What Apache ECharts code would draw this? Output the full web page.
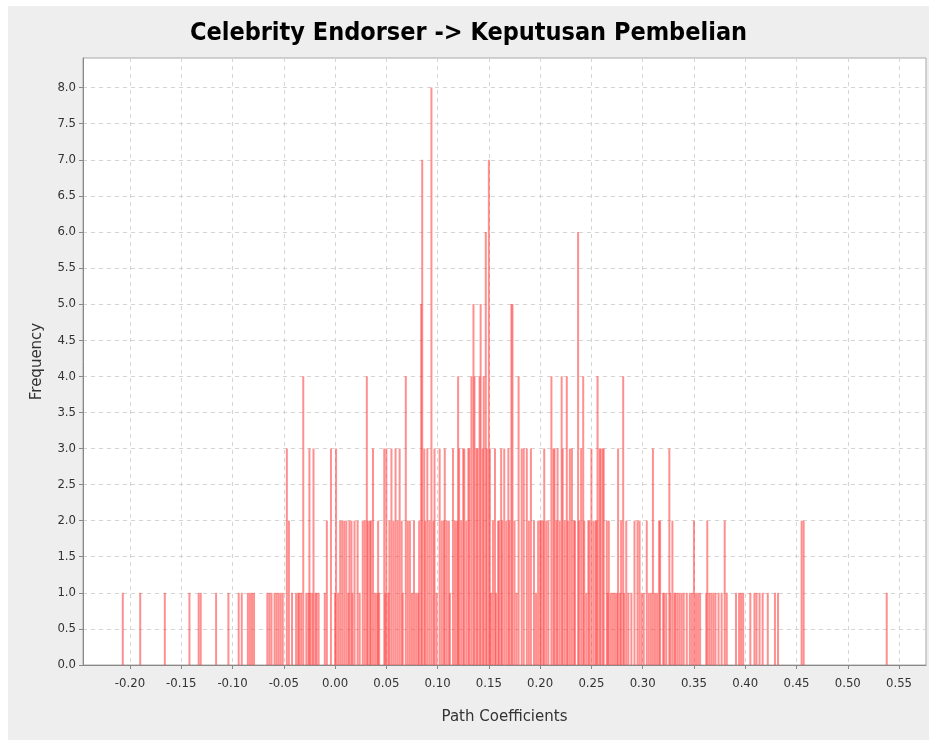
<!DOCTYPE html>
<html>
<head>
<meta charset="utf-8">
<script src="https://cdn.jsdelivr.net/npm/echarts@6/dist/echarts.min.js"></script>
<style>
    html, body { margin: 0; padding: 0; background: #ffffff; }
    #hist { position: absolute; left: 8px; top: 6px; width: 921px; height: 734px; }
</style>
</head>
<body>
<div id="hist"></div>
<script>
// valores del bootstrap (coeficiente) y su frecuencia
const coef = [
    -0.207, -0.190, -0.166, -0.142, -0.133, -0.131, -0.116, -0.104, -0.094, -0.091, -0.085, -0.083, -0.081, -0.079,
    -0.066, -0.064, -0.062, -0.059, -0.057, -0.055, -0.053, -0.051, -0.047, -0.045, -0.042, -0.038, -0.036, -0.035,
    -0.033, -0.031, -0.028, -0.026, -0.025, -0.024, -0.022, -0.021, -0.019, -0.018, -0.016, -0.010, -0.008, -0.004,
    0.000, 0.001, 0.003, 0.005, 0.007, 0.009, 0.011, 0.013, 0.014, 0.016, 0.017, 0.019, 0.022, 0.024, 0.027, 0.029,
    0.031, 0.032, 0.034, 0.035, 0.037, 0.039, 0.041, 0.042, 0.043,
    0.048, 0.049, 0.050, 0.052, 0.053, 0.055, 0.057, 0.059, 0.061, 0.063, 0.065, 0.066, 0.069, 0.071, 0.073, 0.075,
    0.077, 0.079, 0.081, 0.082, 0.084, 0.085, 0.087, 0.088, 0.090, 0.092, 0.094, 0.096, 0.097, 0.099,
    0.102, 0.104, 0.106, 0.107, 0.109, 0.111, 0.112, 0.115, 0.117, 0.119, 0.120, 0.121, 0.123, 0.125, 0.126, 0.128,
    0.130, 0.131, 0.133, 0.135, 0.136, 0.138, 0.139, 0.141, 0.142, 0.144, 0.145, 0.147, 0.148, 0.150, 0.151, 0.152,
    0.154, 0.156, 0.157, 0.159, 0.160, 0.162, 0.163, 0.165, 0.167, 0.169, 0.170, 0.172, 0.173, 0.175, 0.177, 0.179,
    0.182, 0.184, 0.187, 0.189, 0.191, 0.194, 0.196, 0.198, 0.200, 0.201, 0.203, 0.204, 0.206, 0.208, 0.211, 0.213,
    0.214, 0.216, 0.217, 0.219, 0.221, 0.222, 0.224, 0.226, 0.227, 0.229, 0.231, 0.233, 0.234, 0.237, 0.238, 0.240,
    0.242, 0.243, 0.245, 0.247, 0.248, 0.250, 0.252, 0.254, 0.255, 0.256, 0.258, 0.259, 0.261, 0.262, 0.265, 0.266,
    0.267, 0.269, 0.271, 0.273, 0.275, 0.276, 0.278, 0.279, 0.281, 0.282, 0.284, 0.286, 0.289, 0.292, 0.295, 0.297,
    0.299, 0.301, 0.304, 0.306, 0.308, 0.310, 0.312, 0.314, 0.316, 0.317, 0.320, 0.321, 0.323, 0.326, 0.327, 0.329,
    0.331, 0.332, 0.334, 0.336, 0.338, 0.340, 0.343, 0.346, 0.348, 0.350, 0.352, 0.354, 0.356, 0.362, 0.363, 0.365,
    0.367, 0.369, 0.371, 0.374, 0.377, 0.380, 0.382, 0.391, 0.394, 0.396, 0.398, 0.405, 0.409, 0.411, 0.414, 0.417,
    0.422, 0.429, 0.432, 0.455, 0.457, 0.538
];
const freq = [
    1, 1, 1, 1, 1, 1, 1, 1, 1, 1, 1, 1, 1, 1,
    1, 1, 1, 1, 1, 1, 1, 1, 3, 2, 1, 1, 1, 1,
    1, 4, 1, 1, 3, 1, 1, 3, 1, 1, 1, 1, 2, 3,
    1, 3, 1, 2, 2, 2, 2, 1, 2, 2, 1, 2, 2, 1, 2, 2,
    4, 2, 2, 2, 3, 1, 1, 2, 1,
    3, 1, 3, 1, 2, 3, 2, 3, 2, 3, 2, 1, 4, 2, 2, 1,
    2, 1, 1, 2, 5, 7, 3, 2, 3, 2, 8, 2, 3, 1,
    3, 2, 2, 3, 2, 2, 1, 3, 2, 2, 4, 3, 2, 3, 3, 2,
    3, 3, 4, 5, 4, 3, 3, 4, 5, 3, 4, 6, 3, 7, 3, 1,
    2, 3, 1, 2, 2, 3, 2, 3, 2, 3, 2, 5, 5, 2, 1, 4,
    3, 3, 3, 2, 3, 2, 1, 2, 2, 2, 2, 3, 2, 2, 4, 3,
    3, 2, 3, 2, 4, 3, 2, 4, 2, 3, 3, 2, 2, 6, 2, 3,
    4, 2, 1, 2, 2, 3, 2, 2, 2, 4, 3, 3, 3, 3, 2, 1,
    2, 1, 1, 1, 1, 3, 1, 2, 4, 1, 2, 1, 1, 2, 2, 2,
    1, 1, 2, 1, 1, 3, 1, 1, 2, 2, 1, 1, 1, 3, 1, 2,
    1, 1, 1, 1, 1, 1, 1, 1, 1, 2, 1, 1, 1, 1, 2, 1,
    1, 1, 1, 1, 1, 2, 1, 1, 1, 1, 1, 1, 1, 1, 1, 1,
    1, 1, 1, 2, 2, 1
];
const xTicks = [-0.20, -0.15, -0.10, -0.05, 0.00, 0.05, 0.10, 0.15, 0.20, 0.25, 0.30, 0.35, 0.40, 0.45, 0.50, 0.55];
const yTicks = [0, 0.5, 1, 1.5, 2, 2.5, 3, 3.5, 4, 4.5, 5, 5.5, 6, 6.5, 7, 7.5, 8];

const histData = coef.map((c, i) => [c, freq[i]]);

const option = {
    backgroundColor: '#eeeeee',
    animation: false,
    title: {
        text: 'Celebrity Endorser -> Keputusan Pembelian',
        left: 'center',
        top: 10,
        textStyle: {
            fontFamily: '"Liberation Sans Narrow", "DejaVu Sans Condensed", Arial, sans-serif',
            fontWeight: 'bold',
            fontSize: 25,
            color: '#000000'
        }
    },
    grid: {
        left: 75,
        top: 52,
        width: 843,
        height: 607,
        show: true,
        backgroundColor: '#ffffff',
        borderColor: '#a8a8a8',
        borderWidth: 1
    },
    xAxis: {
        type: 'value',
        min: -0.2458,
        max: 0.5763,
        name: 'Path Coefficients',
        nameLocation: 'middle',
        nameGap: 45,
        nameTextStyle: { fontFamily: '"DejaVu Sans", sans-serif', fontSize: 15, color: '#333333' },
        axisLine: { onZero: false, lineStyle: { color: '#888888' } },
        axisTick: { customValues: xTicks, length: 4, lineStyle: { color: '#888888' } },
        axisLabel: {
            customValues: xTicks,
            margin: 12,
            fontFamily: '"DejaVu Sans Condensed", "DejaVu Sans", sans-serif',
            fontSize: 13,
            color: '#333333',
            formatter: v => v.toFixed(2)
        },
        splitLine: { show: true, lineStyle: { color: '#d4d4d4', type: [4, 4] } }
    },
    yAxis: {
        type: 'value',
        min: 0,
        max: 8.41,
        name: 'Frequency',
        nameLocation: 'middle',
        nameGap: 38,
        nameTextStyle: { fontFamily: '"DejaVu Sans", sans-serif', fontSize: 15, color: '#333333' },
        axisLine: { show: true, onZero: false, lineStyle: { color: '#888888' } },
        axisTick: { show: true, customValues: yTicks, length: 4, lineStyle: { color: '#888888' } },
        axisLabel: {
            customValues: yTicks,
            margin: 7,
            fontFamily: '"DejaVu Sans Condensed", "DejaVu Sans", sans-serif',
            fontSize: 13,
            color: '#333333',
            formatter: v => v.toFixed(1)
        },
        splitLine: { show: true, lineStyle: { color: '#d4d4d4', type: [4, 4] } }
    },
    series: [{
        type: 'bar',
        data: histData,
        barWidth: 2,
        itemStyle: { color: 'rgba(255, 70, 70, 0.6)' }
    }]
};

const myChart = echarts.init(document.getElementById('hist'));
myChart.setOption(option);
window.addEventListener('resize', myChart.resize);
</script>
</body>
</html>
